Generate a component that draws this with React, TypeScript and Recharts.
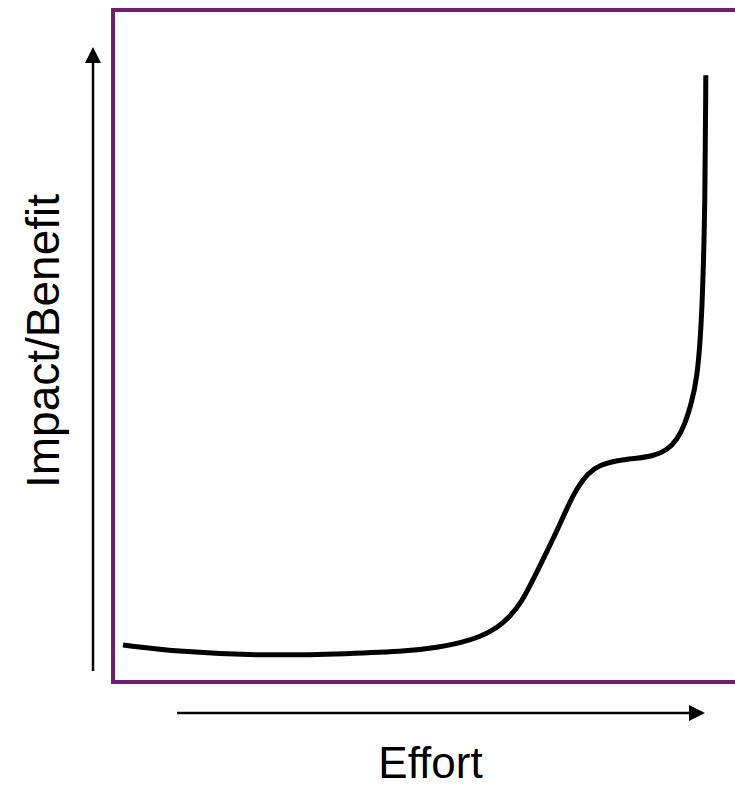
import { LineChart, Line, XAxis, YAxis, ReferenceArea } from 'recharts';

// effort (x) vs impact/benefit (y), both on a 0-100 scale
const effort = [1.6, 10.7, 23.6, 38.0, 47.6, 52.4, 55.6, 58.8, 61.5, 63.6, 65.5, 67.3, 68.9, 71.2, 72.8, 74.4, 76.1, 78.0, 80.8, 84.0, 86.5, 88.8, 90.4, 91.7, 92.6, 93.6, 94.4, 94.9, 95.0];
const impact = [5.5, 4.5, 3.9, 4.2, 4.6, 5.2, 5.8, 6.7, 8.0, 9.7, 11.9, 15.2, 18.2, 22.6, 26.0, 28.9, 31.1, 32.3, 33.0, 33.3, 33.6, 34.5, 36.0, 38.5, 41.2, 44.9, 53.9, 71.7, 90.3];

const xLabel = 'Effort';
const yLabel = 'Impact/Benefit';

const purple = '#6e1f6f';
const font = '"Liberation Sans", Arial, sans-serif';

const data = effort.map((x, i) => ({ x, y: impact[i] }));

function Arrows() {
  return (
    <svg
      width={735}
      height={788}
      style={{ position: 'absolute', left: 0, top: 0, pointerEvents: 'none' }}
    >
      {/* vertical arrow */}
      <line x1={93} y1={671} x2={93} y2={60} stroke="#000" strokeWidth={2.5} />
      <polygon points="93,47 85,63 101,63" fill="#000" />
      {/* horizontal arrow */}
      <line x1={177} y1={713} x2={691} y2={713} stroke="#000" strokeWidth={2.5} />
      <polygon points="705,713 689,705 689,721" fill="#000" />
      <text x={430.5} y={778} textAnchor="middle" fontFamily={font} fontSize={44} fill="#000">
        {xLabel}
      </text>
      <text
        x={0}
        y={0}
        transform="translate(59,341) rotate(-90)"
        textAnchor="middle"
        fontFamily={font}
        fontSize={46}
        fill="#000"
      >
        {yLabel}
      </text>
    </svg>
  );
}

export default function App() {
  return (
    <div
      style={{
        position: 'absolute',
        left: 0,
        top: 0,
        width: 735,
        height: 788,
        overflow: 'hidden',
        background: '#fff',
      }}
    >
      <LineChart
        width={740}
        height={788}
        data={data}
        margin={{ top: 10, left: 113, right: 3, bottom: 106 }}
      >
        <XAxis type="number" dataKey="x" domain={[0, 100]} hide />
        <YAxis type="number" domain={[0, 100]} hide />
        <ReferenceArea
          x1={0}
          x2={100}
          y1={0}
          y2={100}
          fill="none"
          stroke={purple}
          strokeWidth={4}
          fillOpacity={0}
        />
        <Line
          type="basis"
          dataKey="y"
          stroke="#000"
          strokeWidth={5}
          dot={false}
          activeDot={false}
          isAnimationActive={false}
        />
      </LineChart>
      <Arrows />
    </div>
  );
}
